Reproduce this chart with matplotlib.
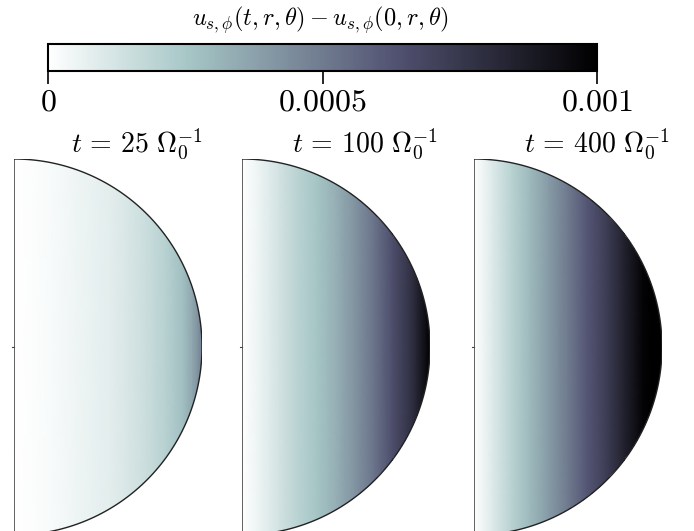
import numpy as np
import matplotlib
matplotlib.use("Agg")
import matplotlib.pyplot as plt
from matplotlib.patches import Polygon
from matplotlib.colors import Normalize

plt.rcParams['mathtext.fontset'] = 'cm'
plt.rcParams['font.family'] = 'serif'
plt.rcParams['font.serif'] = ['DejaVu Serif']

# cylindrical radius s = r sin(theta), normalised to the outer radius
s_vals = [0.0, 0.1, 0.2, 0.3, 0.4, 0.5, 0.6, 0.7, 0.8, 0.9, 0.95, 1.0]
# u_{s,phi}(t) - u_{s,phi}(0)
u_t25 = [0.0, 0.00001, 0.00002, 0.00004, 0.00006, 0.00008, 0.00011, 0.00015, 0.0002, 0.00028, 0.00036, 0.00048]
u_t100 = [0.0, 0.00006, 0.00013, 0.0002, 0.00026, 0.00033, 0.00042, 0.00052, 0.00065, 0.00078, 0.00088, 0.00099]
u_t400 = [0.0, 0.0001, 0.0002, 0.0003, 0.0004, 0.0005, 0.00062, 0.00072, 0.00085, 0.00098, 0.00102, 0.00105]
titles = [r'$t\,=\,25\ \Omega_0^{-1}$', r'$t\,=\,100\ \Omega_0^{-1}$', r'$t\,=\,400\ \Omega_0^{-1}$']
profiles = [u_t25, u_t100, u_t400]
cb_ticks = [0.0, 0.0005, 0.001]
cb_ticklabels = [r'$0$', r'$0.0005$', r'$0.001$']
cb_label = r'$u_{s,\phi}(t,r,\theta) - u_{s,\phi}(0,r,\theta)$'

W, H = 694, 531
fig = plt.figure(figsize=(W / 100, H / 100), dpi=100)
norm = Normalize(vmin=0.0, vmax=0.001)
cmap = plt.get_cmap('bone_r')

lefts = [14, 242, 474]
R = 188
cy = 347
z = np.array([-1.0, 1.0])
theta = np.linspace(-np.pi / 2, np.pi / 2, 400)
for left, prof, title in zip(lefts, profiles, titles):
    ax = fig.add_axes([left / W, (H - cy - R) / H, R / W, 2 * R / H])
    S, Z = np.meshgrid(np.array(s_vals), z)
    C = np.tile(np.array(prof), (2, 1))
    mesh = ax.pcolormesh(S, Z, C, cmap=cmap, norm=norm, shading='gouraud')
    pts = np.column_stack([np.cos(theta), np.sin(theta)])
    poly = Polygon(pts, closed=True, facecolor='none', edgecolor='#222222', lw=1.0)
    ax.add_patch(poly)
    mesh.set_clip_path(poly)
    ax.plot([0, -0.012], [0, 0], color='#444444', lw=0.8, clip_on=False)
    ax.set_xlim(0, 1)
    ax.set_ylim(-1, 1)
    ax.axis('off')
    ax.text(0.655, 1.0 + 6 / (2 * R), title, transform=ax.transAxes,
            ha='center', va='baseline', fontsize=20)

cax = fig.add_axes([48 / W, (H - 71) / H, 549 / W, 27 / H])
sm = matplotlib.cm.ScalarMappable(norm=norm, cmap=cmap)
cb = fig.colorbar(sm, cax=cax, orientation='horizontal')
cb.set_ticks(cb_ticks)
cb.set_ticklabels(cb_ticklabels)
cb.ax.tick_params(labelsize=23, length=9, width=1.2, direction='out', pad=2)
cb.outline.set_linewidth(1.5)
cax.text(0.497, 1.0 + 18 / 27, cb_label, transform=cax.transAxes, ha='center',
         va='baseline', fontsize=17.5)

fig.savefig('out.png', dpi=100)
